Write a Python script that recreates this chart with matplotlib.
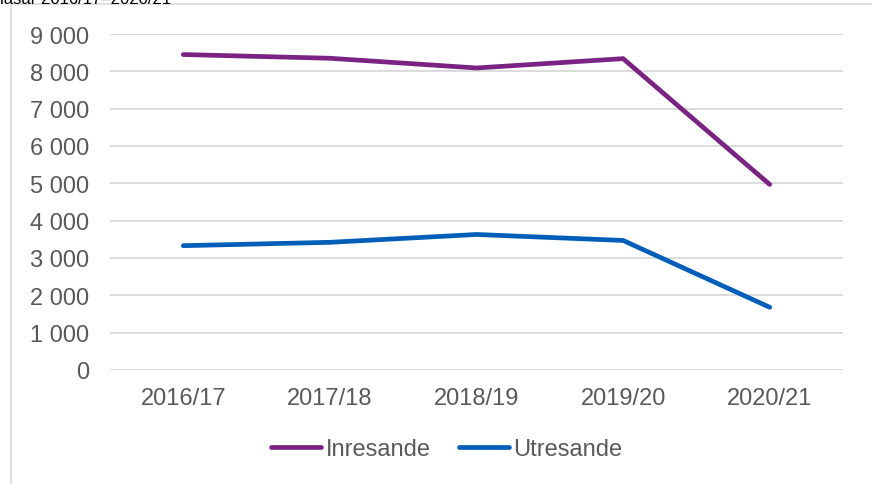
import matplotlib
matplotlib.use("Agg")
from matplotlib import pyplot as plt
from matplotlib.lines import Line2D

plt.rcParams['font.family'] = ['Liberation Sans', 'DejaVu Sans']

years = ["2016/17", "2017/18", "2018/19", "2019/20", "2020/21"]
inresande = [8450, 8350, 8090, 8340, 4970]
utresande = [3330, 3420, 3630, 3470, 1680]
yticks = [0, 1000, 2000, 3000, 4000, 5000, 6000, 7000, 8000, 9000]

purple = "#7A2382"
blue = "#005EB8"
textc = "#595959"
fs = 17

fig = plt.figure(figsize=(8.72, 4.85), dpi=100)
ax = fig.add_axes([110/872, 1-371/485, (843-110)/872, (371-35)/485])

x = list(range(len(years)))
ax.plot(x, inresande, color=purple, lw=3.4, solid_capstyle='round', solid_joinstyle='miter', label="Inresande")
ax.plot(x, utresande, color=blue, lw=3.4, solid_capstyle='round', solid_joinstyle='miter', label="Utresande")

ax.set_xlim(-0.5, len(years) - 0.5)
ax.set_ylim(0, 9000)
ax.set_yticks(yticks)
ax.set_yticklabels([f"{v:,}".replace(",", " ") for v in yticks])
ax.set_xticks(x)
ax.set_xticklabels(years)
ax.grid(axis='y', color="#D9D9D9", lw=1.3)
ax.set_axisbelow(True)
for s in ax.spines.values():
    s.set_visible(False)
ax.tick_params(axis='both', length=0, labelsize=fs, colors=textc)
ax.tick_params(axis='y', pad=15)
ax.tick_params(axis='x', pad=12)

handles = [Line2D([], [], color=purple, lw=3.4, solid_capstyle='round'),
           Line2D([], [], color=blue, lw=3.4, solid_capstyle='round')]
fig.legend(handles, ["Inresande", "Utresande"], loc='center', bbox_to_anchor=(447/872, 1-450/485),
           ncol=2, frameon=False, fontsize=fs, labelcolor=textc, handlelength=2.1,
           handletextpad=0.2, columnspacing=1.2)

# outer chart frame (only top/left visible in crop)
fig.add_artist(Line2D([11/872, 1], [1-5/485, 1-5/485], color="#D9D9D9", lw=1.2, transform=fig.transFigure))
fig.add_artist(Line2D([11/872, 11/872], [0, 1-5/485], color="#D9D9D9", lw=1.2, transform=fig.transFigure))

# caption, cut off at the top as in the source
fig.text(0.0, 1.0, "läsår 2016/17–2020/21", fontsize=12, color="#000000", va='center', ha='left')

fig.savefig("out.png", dpi=100)
